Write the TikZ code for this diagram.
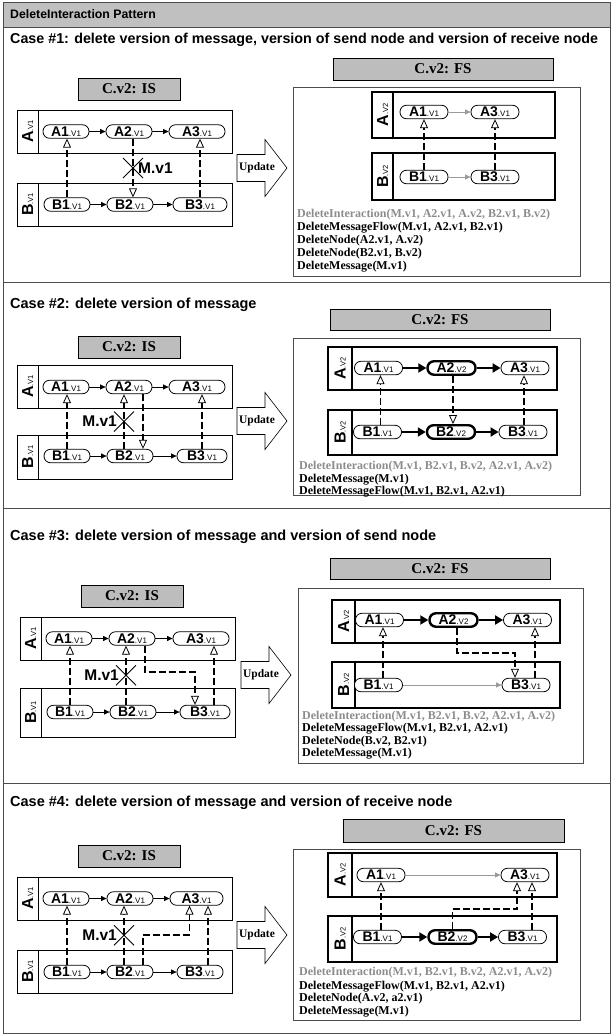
\documentclass[tikz,border=0pt]{standalone}
\usepackage{fontspec}
\setmainfont{Liberation Serif}
\newfontfamily\arial{Liberation Sans}
\usetikzlibrary{arrows.meta, calc}

\definecolor{hdrgray}{HTML}{C0C0C0}
\definecolor{boxgray}{HTML}{BDBDBD}
\definecolor{txtgray}{HTML}{8C8C8C}
\definecolor{flowgray}{HTML}{9A9A9A}

% node text: bold name plus small version tag
\newcommand\tk[2]{{\arial\bfseries\fontsize{14}{14}\selectfont #1}{\arial\fontsize{8}{8}\selectfont .#2}}
\newcommand\lanetxt[2]{{\arial\bfseries\fontsize{16}{16}\selectfont #1}{\arial\fontsize{7.5}{7.5}\selectfont .#2}}
% block arrow with label: name, left x, middle y
\newcommand\updarrow[3]{%
  \draw[updarrow] (#2,#3-13.5) -- ++(28,0) -- ++(0,-15) -- ++(22,28.5) -- ++(-22,28.5) -- ++(0,-15) -- ++(-28,0) -- cycle;
  \node[updtext] (#1) at (#2+20,#3) {Update};
}

\tikzset{
  frame/.style={draw=black!70, line width=1pt},
  hdr/.style={draw, fill=boxgray, line width=0.6pt, inner sep=0pt, minimum height=22pt, font=\bfseries\fontsize{15}{15}\selectfont},
  pool/.style={draw, line width=0.7pt},
  fspool/.style={draw, line width=2.8pt},
  lane/.style={rotate=90, inner sep=0pt},
  task/.style={draw, fill=white, rounded corners=6.5pt, minimum height=13.5pt, minimum width=46pt, inner sep=1pt, line width=0.8pt},
  ftask/.style={task, minimum width=48pt},
  newtask/.style={ftask, line width=2.4pt},
  seq/.style={-{Triangle[length=5.5pt, width=5pt]}, line width=0.7pt},
  seqgray/.style={seq, draw=flowgray},
  seqthick/.style={-{Triangle[length=8pt, width=9pt]}, line width=2.6pt},
  msg/.style={dash pattern=on 7pt off 3pt, line width=1.7pt, -{Triangle[fill=white, length=9pt, width=8pt, line width=0.8pt]}},
  cross/.style={line width=0.9pt},
  mlabel/.style={inner sep=0pt, font=\arial\bfseries\fontsize{15.5}{15.5}\selectfont},
  title/.style={anchor=west, inner sep=0pt, font=\arial\bfseries\fontsize{14.5}{14.5}\selectfont},
  cmd/.style={anchor=west, inner sep=0pt, font=\bfseries\fontsize{12}{12}\selectfont},
  oldcmd/.style={cmd, text=txtgray},
  fsbox/.style={draw=black!70, line width=0.7pt},
  updarrow/.style={draw, fill=white, line width=0.6pt},
  updtext/.style={inner sep=0pt, font=\bfseries\fontsize{11.5}{11.5}\selectfont},
}

\begin{document}
\begin{tikzpicture}[x=1pt, y=-1pt]
\useasboundingbox (0,0) rectangle (611,1034);

% Frame and header
\fill[hdrgray] (3,2) rectangle (610,27);
\draw[frame] (3,2) rectangle (610,1033);
\draw[frame] (3,27) -- (610,27);
\node[anchor=west, inner sep=0pt, font=\arial\bfseries\fontsize{12.3}{12.3}\selectfont] (head) at (10,14) {DeleteInteraction Pattern};
\draw[frame] (3,282) -- (610,282);
\draw[frame] (3,508) -- (610,508);
\draw[frame] (3,783) -- (610,783);

% ================= Case #1 =================
\node[title, font=\arial\bfseries\fontsize{14.3}{14.3}\selectfont] (t1) at (10,40) {Case \#1: delete version of message, version of send node and version of receive node};
\begin{scope}[shift={(17,110)}]
  \node[hdr, minimum width=102pt] (c1is) at (112,-21) {C.v2: IS};
  \draw[pool] (0,0) rectangle (215,43) (21,0) -- (21,43);
  \draw[pool] (0,73) rectangle (215,116) (21,73) -- (21,116);
  \node[lane] (c1lA) at (10.5,21.5) {\lanetxt{A}{V1}};
  \node[lane] (c1lB) at (10.5,94.5) {\lanetxt{B}{V1}};
  \node[task] (c1A1) at (49,21.5) {\tk{A1}{V1}};
  \node[task] (c1A2) at (112,21.5) {\tk{A2}{V1}};
  \node[task, minimum width=56pt] (c1A3) at (180,21.5) {\tk{A3}{V1}};
  \node[task] (c1B1) at (50,94.5) {\tk{B1}{V1}};
  \node[task] (c1B2) at (113,94.5) {\tk{B2}{V1}};
  \node[task, minimum width=54pt] (c1B3) at (183,94.5) {\tk{B3}{V1}};
  \draw[seq] (c1A1) -- (c1A2);
  \draw[seq] (c1A2) -- (c1A3);
  \draw[seq] (c1B1) -- (c1B2);
  \draw[seq] (c1B2) -- (c1B3);
  \draw[msg] (c1B1.north) -- (c1B1.north |- c1A1.south);
  \draw[msg] ([xshift=4pt]c1A2.south) -- ([xshift=4pt]c1A2.south |- c1B2.north) coordinate[midway] (c1m);
  \draw[msg] (c1B3.north) -- (c1B3.north |- c1A3.south);
  \draw[cross] ($(c1m)+(-10,-10)$) -- ($(c1m)+(10,10)$) ($(c1m)+(10,-10)$) -- ($(c1m)+(-10,10)$);
  \node[mlabel, anchor=west] (c1ml) at ($(c1m)+(5,0)$) {M.v1};
\end{scope}
\updarrow{c1up}{237}{168}
\node[hdr, minimum width=220pt] (c1fs) at (443,69) {C.v2: FS};
\draw[fsbox] (293,87) rectangle (580,276);
\draw[fspool] (372,92) rectangle (555,138) (393,92) -- (393,138);
\draw[fspool] (372,153) rectangle (555,200) (393,153) -- (393,200);
\node[lane] (c1flA) at (382.5,115) {\lanetxt{A}{V2}};
\node[lane] (c1flB) at (382.5,176.5) {\lanetxt{B}{V2}};
\node[ftask] (c1fA1) at (424,112) {\tk{A1}{V1}};
\node[ftask] (c1fA3) at (495,112) {\tk{A3}{V1}};
\node[ftask] (c1fB1) at (424,177) {\tk{B1}{V1}};
\node[ftask] (c1fB3) at (495,177) {\tk{B3}{V1}};
\draw[seqgray] (c1fA1) -- (c1fA3);
\draw[seqgray] (c1fB1) -- (c1fB3);
\draw[msg] (c1fB1) -- (c1fA1);
\draw[msg] (c1fB3) -- (c1fA3);
\node[oldcmd] (c1k1) at (297,215) {DeleteInteraction(M.v1, A2.v1, A.v2, B2.v1, B.v2)};
\node[cmd] (c1k2) at (297,228) {DeleteMessageFlow(M.v1, A2.v1, B2.v1)};
\node[cmd] (c1k3) at (297,241) {DeleteNode(A2.v1, A.v2)};
\node[cmd] (c1k4) at (297,254) {DeleteNode(B2.v1, B.v2)};
\node[cmd] (c1k5) at (297,267) {DeleteMessage(M.v1)};

% ================= Case #2 =================
\node[title] (t2) at (10,305) {Case \#2: delete version of message};
\begin{scope}[shift={(17,365)}]
  \node[hdr, minimum width=102pt] (c2is) at (112,-18) {C.v2: IS};
  \draw[pool] (0,0) rectangle (215,43) (21,0) -- (21,43);
  \draw[pool] (0,70) rectangle (215,114) (21,70) -- (21,114);
  \node[lane] (c2lA) at (10.5,21.5) {\lanetxt{A}{V1}};
  \node[lane] (c2lB) at (10.5,92) {\lanetxt{B}{V1}};
  \node[task] (c2A1) at (49,22) {\tk{A1}{V1}};
  \node[task] (c2A2) at (112,22) {\tk{A2}{V1}};
  \node[task, minimum width=56pt] (c2A3) at (180,22) {\tk{A3}{V1}};
  \node[task] (c2B1) at (50,91) {\tk{B1}{V1}};
  \node[task] (c2B2) at (113,91) {\tk{B2}{V1}};
  \node[task, minimum width=50pt] (c2B3) at (185,91) {\tk{B3}{V1}};
  \draw[seq] (c2A1) -- (c2A2);
  \draw[seq] (c2A2) -- (c2A3);
  \draw[seq] (c2B1) -- (c2B2);
  \draw[seq] (c2B2) -- (c2B3);
  \draw[msg] (c2B1.north) -- (c2B1.north |- c2A1.south);
  \draw[msg] ([xshift=-6pt]c2B2.north) -- ([xshift=-6pt]c2B2.north |- c2A2.south) coordinate[midway] (c2m);
  \draw[msg] ([xshift=14pt]c2A2.south) -- ([xshift=14pt]c2A2.south |- c2B2.north);
  \draw[msg] (c2B3.north) -- (c2B3.north |- c2A3.south);
  \draw[cross] ($(c2m)+(-10,-10)$) -- ($(c2m)+(10,10)$) ($(c2m)+(10,-10)$) -- ($(c2m)+(-10,10)$);
  \node[mlabel, anchor=east] (c2ml) at ($(c2m)+(-7,0)$) {M.v1};
\end{scope}
\updarrow{c2up}{237}{421}
\node[hdr, minimum width=220pt, minimum height=21pt] (c2fs) at (440,320) {C.v2: FS};
\draw[fsbox] (293,338) rectangle (580,495);
\draw[fspool] (328,347) rectangle (557,390) (352,347) -- (352,390);
\draw[fspool] (328,410) rectangle (557,455) (352,410) -- (352,455);
\node[lane] (c2flA) at (340,368.5) {\lanetxt{A}{V2}};
\node[lane] (c2flB) at (340,432.5) {\lanetxt{B}{V2}};
\node[ftask] (c2fA1) at (378.5,368) {\tk{A1}{V1}};
\node[newtask] (c2fA2) at (451.5,368) {\tk{A2}{V2}};
\node[ftask] (c2fA3) at (525,368) {\tk{A3}{V1}};
\node[ftask] (c2fB1) at (377.5,432) {\tk{B1}{V1}};
\node[newtask] (c2fB2) at (451,432) {\tk{B2}{V2}};
\node[ftask] (c2fB3) at (523,432) {\tk{B3}{V1}};
\draw[seqthick] (c2fA1) -- (c2fA2);
\draw[seqthick] (c2fA2) -- (c2fA3);
\draw[seqthick] (c2fB1) -- (c2fB2);
\draw[seqthick] (c2fB2) -- (c2fB3);
\draw[msg] ([xshift=3pt]c2fB1.north) -- ([xshift=3pt]c2fB1.north |- c2fA1.south);
\draw[msg] ([xshift=1.5pt]c2fA2.south) -- ([xshift=1.5pt]c2fA2.south |- c2fB2.north);
\draw[msg] ([xshift=1pt]c2fB3.north) -- ([xshift=1pt]c2fB3.north |- c2fA3.south);
\node[oldcmd] (c2k1) at (299,467) {DeleteInteraction(M.v1, B2.v1, B.v2, A2.v1, A.v2)};
\node[cmd] (c2k2) at (299,480) {DeleteMessage(M.v1)};
\node[cmd] (c2k3) at (299,492) {DeleteMessageFlow(M.v1, B2.v1, A2.v1)};

% ================= Case #3 =================
\node[title] (t3) at (10,537) {Case \#3: delete version of message and version of send node};
\begin{scope}[shift={(20,617)}]
  \node[hdr, minimum width=102pt] (c3is) at (112,-21) {C.v2: IS};
  \draw[pool] (0,0) rectangle (215,43) (21,0) -- (21,43);
  \draw[pool] (0,71) rectangle (215,120) (21,71) -- (21,120);
  \node[lane] (c3lA) at (10.5,21.5) {\lanetxt{A}{V1}};
  \node[lane] (c3lB) at (10.5,95.5) {\lanetxt{B}{V1}};
  \node[task] (c3A1) at (49,21.5) {\tk{A1}{V1}};
  \node[task] (c3A2) at (112,21.5) {\tk{A2}{V1}};
  \node[task, minimum width=56pt] (c3A3) at (181,21.5) {\tk{A3}{V1}};
  \node[task] (c3B1) at (50,95) {\tk{B1}{V1}};
  \node[task] (c3B2) at (113,95) {\tk{B2}{V1}};
  \node[task, minimum width=50pt] (c3B3) at (185,95) {\tk{B3}{V1}};
  \draw[seq] (c3A1) -- (c3A2);
  \draw[seq] (c3A2) -- (c3A3);
  \draw[seq] (c3B1) -- (c3B2);
  \draw[seq] (c3B2) -- (c3B3);
  \draw[msg] (c3B1.north) -- (c3B1.north |- c3A1.south);
  \draw[msg] ([xshift=-7pt]c3B2.north) -- ([xshift=-7pt]c3B2.north |- c3A2.south) coordinate[midway] (c3m);
  \draw[msg] ([xshift=13pt]c3A2.south) -- ++(0,26.5) -| ([xshift=-10pt]c3B3.north);
  \draw[msg] ([xshift=9pt]c3B3.north) -- ([xshift=9pt]c3B3.north |- c3A3.south);
  \draw[cross] ($(c3m)+(-10,-10)$) -- ($(c3m)+(10,10)$) ($(c3m)+(10,-10)$) -- ($(c3m)+(-10,10)$);
  \node[mlabel, anchor=east] (c3ml) at ($(c3m)+(-7,0)$) {M.v1};
\end{scope}
\updarrow{c3up}{241}{675}
\node[hdr, minimum width=220pt, minimum height=21pt] (c3fs) at (440,568.5) {C.v2: FS};
\draw[fsbox] (298,588) rectangle (583,763);
\draw[fspool] (332,600) rectangle (560,643) (355,600) -- (355,643);
\draw[fspool] (332,662) rectangle (560,708) (355,662) -- (355,708);
\node[lane] (c3flA) at (343.5,621.5) {\lanetxt{A}{V2}};
\node[lane] (c3flB) at (343.5,685) {\lanetxt{B}{V2}};
\node[ftask] (c3fA1) at (379.5,620) {\tk{A1}{V1}};
\node[newtask] (c3fA2) at (453.5,620) {\tk{A2}{V2}};
\node[ftask] (c3fA3) at (527.5,620) {\tk{A3}{V1}};
\node[ftask] (c3fB1) at (378.5,685) {\tk{B1}{V1}};
\node[ftask] (c3fB3) at (526,685) {\tk{B3}{V1}};
\draw[seqthick] (c3fA1) -- (c3fA2);
\draw[seqthick] (c3fA2) -- (c3fA3);
\draw[seqgray] (c3fB1) -- (c3fB3);
\draw[msg] ([xshift=4.5pt]c3fB1.north) -- ([xshift=4.5pt]c3fB1.north |- c3fA1.south);
\draw[msg] ([xshift=3.5pt]c3fA2.south) -- ++(0,25) -| ([xshift=-11pt]c3fB3.north);
\draw[msg] ([xshift=9pt]c3fB3.north) -- ([xshift=9pt]c3fB3.north |- c3fA3.south);
\node[oldcmd] (c3k1) at (302,717) {DeleteInteraction(M.v1, B2.v1, B.v2, A2.v1, A.v2)};
\node[cmd] (c3k2) at (302,729) {DeleteMessageFlow(M.v1, B2.v1, A2.v1)};
\node[cmd] (c3k3) at (302,742) {DeleteNode(B.v2, B2.v1)};
\node[cmd] (c3k4) at (302,754) {DeleteMessage(M.v1)};

% ================= Case #4 =================
\node[title] (t4) at (10,803) {Case \#4: delete version of message and version of receive node};
\begin{scope}[shift={(17,877)}]
  \node[hdr, minimum width=102pt] (c4is) at (112,-21) {C.v2: IS};
  \draw[pool] (0,0) rectangle (215,43) (21,0) -- (21,43);
  \draw[pool] (0,73) rectangle (215,116) (21,73) -- (21,116);
  \node[lane] (c4lA) at (10.5,21.5) {\lanetxt{A}{V1}};
  \node[lane] (c4lB) at (10.5,94.5) {\lanetxt{B}{V1}};
  \node[task] (c4A1) at (49,21.5) {\tk{A1}{V1}};
  \node[task] (c4A2) at (113,21.5) {\tk{A2}{V1}};
  \node[task, minimum width=53pt] (c4A3) at (179.5,21.5) {\tk{A3}{V1}};
  \node[task] (c4B1) at (50,95) {\tk{B1}{V1}};
  \node[task] (c4B2) at (113,95) {\tk{B2}{V1}};
  \node[task] (c4B3) at (183,95) {\tk{B3}{V1}};
  \draw[seq] (c4A1) -- (c4A2);
  \draw[seq] (c4A2) -- (c4A3);
  \draw[seq] (c4B1) -- (c4B2);
  \draw[seq] (c4B2) -- (c4B3);
  \draw[msg] (c4B1.north) -- (c4B1.north |- c4A1.south);
  \draw[msg] ([xshift=-6pt]c4B2.north) -- ([xshift=-6pt]c4B2.north |- c4A2.south) coordinate[midway] (c4m);
  \draw[msg] ([xshift=13pt]c4B2.north) -- ++(0,-30) -| ([xshift=-7pt]c4A3.south);
  \draw[msg] ([xshift=8pt]c4B3.north) -- ([xshift=8pt]c4B3.north |- c4A3.south);
  \draw[cross] ($(c4m)+(-10,-10)$) -- ($(c4m)+(10,10)$) ($(c4m)+(10,-10)$) -- ($(c4m)+(-10,10)$);
  \node[mlabel, anchor=east] (c4ml) at ($(c4m)+(-7,0)$) {M.v1};
\end{scope}
\updarrow{c4up}{237}{935}
\node[hdr, minimum width=221pt, minimum height=23pt] (c4fs) at (453.5,830.5) {C.v2: FS};
\draw[fsbox] (293,849) rectangle (580,1020);
\draw[fspool] (328,853) rectangle (557,897) (352,853) -- (352,897);
\draw[fspool] (328,916) rectangle (557,962) (352,916) -- (352,962);
\node[lane] (c4flA) at (340,875) {\lanetxt{A}{V2}};
\node[lane] (c4flB) at (340,939) {\lanetxt{B}{V2}};
\node[ftask] (c4fA1) at (381,875) {\tk{A1}{V1}};
\node[ftask] (c4fA3) at (525,875) {\tk{A3}{V1}};
\node[ftask] (c4fB1) at (377.5,937) {\tk{B1}{V1}};
\node[newtask] (c4fB2) at (452.5,937) {\tk{B2}{V2}};
\node[ftask] (c4fB3) at (522.5,937) {\tk{B3}{V1}};
\draw[seqgray] (c4fA1) -- (c4fA3);
\draw[seqthick] (c4fB1) -- (c4fB2);
\draw[seqthick] (c4fB2) -- (c4fB3);
\draw[msg] ([xshift=3.5pt]c4fB1.north) -- ([xshift=3.5pt]c4fB1.north |- c4fA1.south);
\draw[msg] (c4fB2.north) -- ++(0,-20) -| ([xshift=-8pt]c4fA3.south);
\draw[msg] ([xshift=9.5pt]c4fB3.north) -- ([xshift=9.5pt]c4fB3.north |- c4fA3.south);
\node[oldcmd] (c4k1) at (299,973) {DeleteInteraction(M.v1, B2.v1, B.v2, A2.v1, A.v2)};
\node[cmd] (c4k2) at (299,987) {DeleteMessageFlow(M.v1, B2.v1, A2.v1)};
\node[cmd] (c4k3) at (299,999) {DeleteNode(A.v2, a2.v1)};
\node[cmd] (c4k4) at (299,1012) {DeleteMessage(M.v1)};

\end{tikzpicture}
\end{document}
